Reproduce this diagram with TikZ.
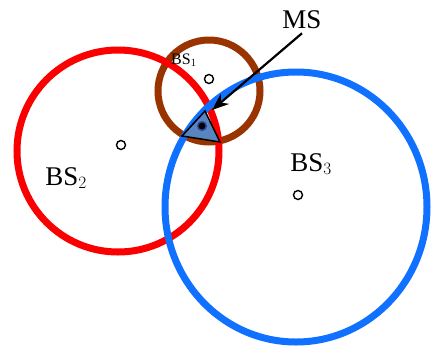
\documentclass[tikz,border=0pt]{standalone}
\usepackage{fontspec}
\setmainfont{Liberation Serif}
\usetikzlibrary{arrows.meta}
\definecolor{cred}{RGB}{250,0,0}
\definecolor{cbrown}{RGB}{153,51,0}
\definecolor{cblue}{RGB}{16,112,255}
\definecolor{ctri}{RGB}{88,132,192}
\tikzset{
  ring/.style={line width=7pt},
  bsmark/.style={circle,draw=black,line width=1.4pt,fill=white,inner sep=0pt,minimum size=9pt},
  lbl/.style={inner sep=0pt,font=\fontsize{27}{30}\selectfont},
}
\begin{document}
\begin{tikzpicture}[x=1pt,y=-1pt]
\useasboundingbox (0,0) rectangle (431,349);
% circles
\draw[ring,cbrown] (209,91) circle[radius=51];
\draw[ring,cred] (118,151) circle[radius=101];
\draw[ring,cblue] (296,207) ellipse[x radius=131,y radius=135];
% base station markers
\node[bsmark] (bs1) at (209,79) {};
\node[bsmark] (bs2) at (121,145) {};
\node[bsmark] (bs3) at (298,195) {};
% labels
\node[lbl,font=\fontsize{16}{18}\selectfont] (l1) at (184,60) {BS$_1$};
\node[lbl] (l2) at (66,178) {BS$_2$};
\node[lbl] (l3) at (311,164) {BS$_3$};
\node[lbl] (ms) at (302,20) {MS};
% triangle (MS region)
\coordinate (t1) at (182,136);
\coordinate (t2) at (205,111);
\coordinate (t3) at (220,142);
\draw[fill=ctri,line width=1.5pt,line join=miter] (t1) -- (t2) -- (t3) -- cycle;
\fill[black!60!blue,opacity=0.5] (202,126) circle[radius=5];
\fill[black] (202,126) circle[radius=3.3];
\coordinate (tip) at (212,110);
\draw[line width=2.2pt,-{Stealth[length=17pt,width=13pt]}] (ms.south) ++(0,4) -- (tip);
\end{tikzpicture}
\end{document}
